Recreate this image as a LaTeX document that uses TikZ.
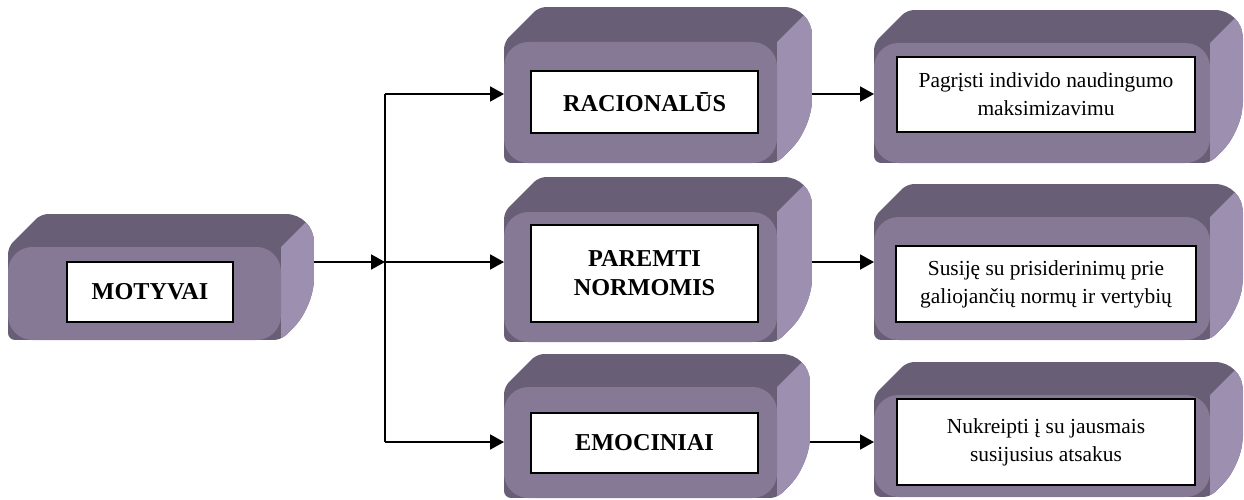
\documentclass[tikz,border=0pt]{standalone}
\usepackage{fontspec}
\setmainfont{Liberation Serif}
\usetikzlibrary{arrows.meta}
\definecolor{boxfront}{RGB}{134,121,150}
\definecolor{boxtop}{RGB}{104,95,118}
\definecolor{boxside}{RGB}{156,143,176}
\tikzset{
  inner/.style={draw=black, line width=1pt, fill=white, align=center, inner sep=0pt,
    font=\fontsize{12.2}{15.9}\selectfont},
  lbl/.style 2 args={inner, minimum width=#1, minimum height=#2},
  heading/.style={font=\fontsize{13.8}{16.5}\selectfont\bfseries},
  link/.style={line width=1.1pt, -{Triangle[length=2.8mm,width=3mm]}},
}
% solid box: name, front face (#2,#3)-(#4,#5), depth #6, arrow height #7
\newcommand{\solidbox}[7]{
  \begin{scope}
    \clip[rounded corners=4] (#2,{(#3+#5)/2}) -- (#2,#3) -- (#2+#6,#3-#6)
      [rounded corners=16] -- (#4+#6,#3-#6) -- (#4+#6,#5-#6)
      [rounded corners=4] -- (#4,#5) -- (#2,#5) -- cycle;
    \fill[boxtop] (#2,#3-#6) rectangle (#4+#6,#5);
    \fill[boxside] (#4,#3) -- (#4+#6,#3-#6) -- (#4+#6,#5-#6) -- (#4,#5) -- cycle;
  \end{scope}
  \fill[boxfront, rounded corners=14] (#2,#3) rectangle (#4,#5);
  \coordinate (#1-in) at (#2,#7);
  \coordinate (#1-out) at (#4+#6,#7);
}
\begin{document}
\begin{tikzpicture}[x=0.02cm, y=-0.02cm]
  \useasboundingbox (0,0) rectangle (1244,500);

  % the blocks
  \solidbox{mot}{8}{247}{281}{340}{33}{262}
  \solidbox{rac}{504}{42}{777}{163}{35}{94}
  \solidbox{nor}{504}{212}{777}{342}{35}{262}
  \solidbox{emo}{504}{387}{777}{498}{33}{442}
  \solidbox{ped}{874}{43}{1210}{163}{33}{94}
  \solidbox{sus}{874}{217}{1210}{340}{33}{262}
  \solidbox{nuk}{874}{395}{1210}{497}{33}{442}

  % texts
  \node[lbl={3.32cm}{1.2cm}, heading] (motyvai) at (150,292) {MOTYVAI};
  \node[lbl={4.54cm}{1.24cm}, heading] (racionalus) at (644.5,102) {RACIONALŪS};
  \node[lbl={4.54cm}{1.94cm}, heading] (normos) at (644.5,273.5) {PAREMTI\\NORMOMIS};
  \node[lbl={4.54cm}{1.2cm}, heading] (emociniai) at (644.5,443) {EMOCINIAI};
  \node[lbl={5.96cm}{1.5cm}] (pagristi) at (1046,94.5) {Pagrįsti individo naudingumo\\maksimizavimu};
  \node[lbl={6cm}{1.52cm}] (susije) at (1046,284) {Susiję su prisiderinimų prie\\galiojančių normų ir vertybių};
  \node[lbl={5.96cm}{1.72cm}] (nukreipti) at (1046,442) {Nukreipti į su jausmais\\susijusius atsakus};

  % arrows
  \coordinate (split) at (385,262);
  \draw[link] (mot-out) -- (split);
  \draw[line width=1.1pt] (split |- rac-in) -- (split |- emo-in);
  \draw[link] (split |- rac-in) -- (rac-in);
  \draw[link] (split) -- (nor-in);
  \draw[link] (split |- emo-in) -- (emo-in);
  \draw[link] (rac-out) -- (ped-in);
  \draw[link] (nor-out) -- (sus-in);
  \draw[link] (emo-out) -- (nuk-in);
\end{tikzpicture}
\end{document}
